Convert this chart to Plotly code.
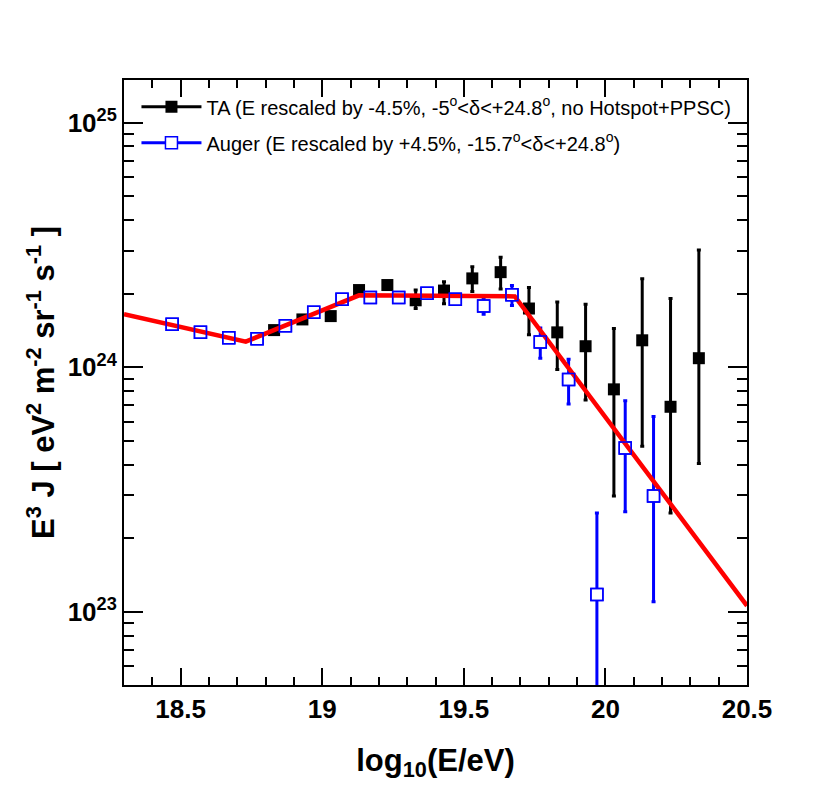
import plotly.graph_objects as go

# TA points (log10 E, E^3 J in units of 1e24)
ta_x = [18.83, 18.93, 19.03, 19.13, 19.23, 19.33, 19.43, 19.53,
        19.63, 19.73, 19.83, 19.93, 20.03, 20.13, 20.23, 20.33]
ta_y = [1.42, 1.57, 1.62, 2.07, 2.17, 1.88, 2.06, 2.31,
        2.45, 1.74, 1.39, 1.22, 0.813, 1.29, 0.69, 1.09]
ta_hi = [1.46, 1.61, 1.67, 2.13, 2.24, 2.07, 2.24, 2.58,
         2.82, 2.12, 1.85, 1.81, 1.44, 2.30, 1.91, 3.02]
ta_lo = [1.38, 1.53, 1.57, 2.01, 2.10, 1.74, 1.82, 2.04,
         2.09, 1.36, 0.98, 0.735, 0.298, 0.476, 0.254, 0.405]

# Auger points
au_x = [18.47, 18.57, 18.67, 18.77, 18.87, 18.97, 19.07, 19.17, 19.27,
        19.37, 19.47, 19.57, 19.67, 19.77, 19.87, 19.97, 20.07, 20.17]
au_y = [1.50, 1.39, 1.32, 1.31, 1.48, 1.68, 1.90, 1.93, 1.93,
        2.01, 1.90, 1.78, 1.98, 1.27, 0.893, 0.118, 0.468, 0.298]
au_hi = [1.52, 1.41, 1.34, 1.33, 1.50, 1.70, 1.93, 1.96, 1.96,
         2.05, 1.95, 1.93, 2.16, 1.45, 1.08, 0.254, 0.73, 0.63]
au_lo = [1.48, 1.37, 1.30, 1.29, 1.46, 1.66, 1.87, 1.90, 1.90,
         1.97, 1.85, 1.65, 1.79, 1.09, 0.708, 0.01, 0.257, 0.11]

# broken power-law fit
fit_x = [18.3, 18.73, 19.13, 19.68, 20.5]
fit_y = [1.65, 1.274, 1.97, 1.95, 0.106]

S = 1e24
def sc(v):
    return [a * S for a in v]

FONT = "Liberation Sans"
ta_label = "TA (E rescaled by -4.5%, -5<sup>o</sup>&lt;δ&lt;+24.8<sup>o</sup>, no Hotspot+PPSC)"
au_label = "Auger (E rescaled by +4.5%, -15.7<sup>o</sup>&lt;δ&lt;+24.8<sup>o</sup>)"

fig = go.Figure()

fig.add_trace(go.Scatter(
    x=ta_x, y=sc(ta_y), mode="markers", showlegend=False,
    marker=dict(symbol="square", size=12, color="black"),
    error_y=dict(type="data", symmetric=False,
                 array=[h - y for h, y in zip(sc(ta_hi), sc(ta_y))],
                 arrayminus=[y - l for y, l in zip(sc(ta_y), sc(ta_lo))],
                 color="black", thickness=3, width=2)))

fig.add_trace(go.Scatter(
    x=au_x, y=sc(au_y), mode="markers", showlegend=False,
    marker=dict(symbol="square", size=12, color="white",
                line=dict(color="blue", width=1.5)),
    error_y=dict(type="data", symmetric=False,
                 array=[h - y for h, y in zip(sc(au_hi), sc(au_y))],
                 arrayminus=[y - l for y, l in zip(sc(au_y), sc(au_lo))],
                 color="blue", thickness=3, width=2)))

fig.add_trace(go.Scatter(
    x=fit_x, y=sc(fit_y), mode="lines", showlegend=False,
    line=dict(color="red", width=4.5)))

# open squares on top of the fit line
fig.add_trace(go.Scatter(
    x=au_x, y=sc(au_y), mode="markers", showlegend=False,
    marker=dict(symbol="square-open", size=12, color="blue",
                line=dict(color="blue", width=1.5))))

# legend entries
fig.add_trace(go.Scatter(
    x=[None], y=[None], mode="lines+markers", name=ta_label, legendgroup="a",
    line=dict(color="black", width=3),
    marker=dict(symbol="square", size=12, color="black")))
fig.add_trace(go.Scatter(
    x=[None], y=[None], mode="lines+markers", name=au_label, legendgroup="b",
    line=dict(color="blue", width=3),
    marker=dict(symbol="square", size=12, color="white",
                line=dict(color="blue", width=1.5))))

minor_y = [k * 10.0 ** n for n in range(22, 26) for k in range(2, 10)]

fig.update_layout(
    width=822, height=799,
    margin=dict(l=116, r=83, t=72, b=122),
    paper_bgcolor="white", plot_bgcolor="white",
    font=dict(family=FONT, color="black"),
    legend=dict(x=0.02, y=0.988, xanchor="left", yanchor="top",
                bgcolor="rgba(0,0,0,0)", font=dict(size=20, family=FONT),
                itemwidth=60, tracegroupgap=7),
    xaxis=dict(
        range=[18.3, 20.5], automargin=False,
        tickvals=[18.5, 19, 19.5, 20, 20.5],
        ticktext=["18.5", "19", "19.5", "20", "20.5"],
        ticks="inside", ticklen=17, tickwidth=2, tickcolor="black",
        minor=dict(dtick=0.1, ticks="inside", ticklen=8, tickwidth=2, tickcolor="black"),
        showline=True, linewidth=2, linecolor="black", mirror="ticks",
        showgrid=False, zeroline=False,
        tickfont=dict(size=26, family=FONT, weight="bold"),
        title=dict(text="log<sub>10</sub>(E/eV)", standoff=26,
                   font=dict(size=31, family=FONT, weight="bold"))),
    yaxis=dict(
        type="log", range=[22.7016, 25.1746], automargin=False,
        tickvals=[1e23, 1e24, 1e25],
        ticktext=["10<sup>23</sup>", "10<sup>24</sup>", "10<sup>25</sup>"],
        ticks="inside", ticklen=19, tickwidth=2, tickcolor="black",
        minor=dict(tickvals=minor_y, ticks="inside", ticklen=10, tickwidth=2, tickcolor="black"),
        showline=True, linewidth=2, linecolor="black", mirror="ticks",
        showgrid=False, zeroline=False,
        tickfont=dict(size=26, family=FONT, weight="bold"),
        title=dict(text="E<sup>3</sup> J [ eV<sup>2</sup> m<sup>-2</sup> sr<sup>-1</sup> s<sup>-1</sup> ]",
                   standoff=4, font=dict(size=31, family=FONT, weight="bold"))),
)

fig.write_html("out.html")
